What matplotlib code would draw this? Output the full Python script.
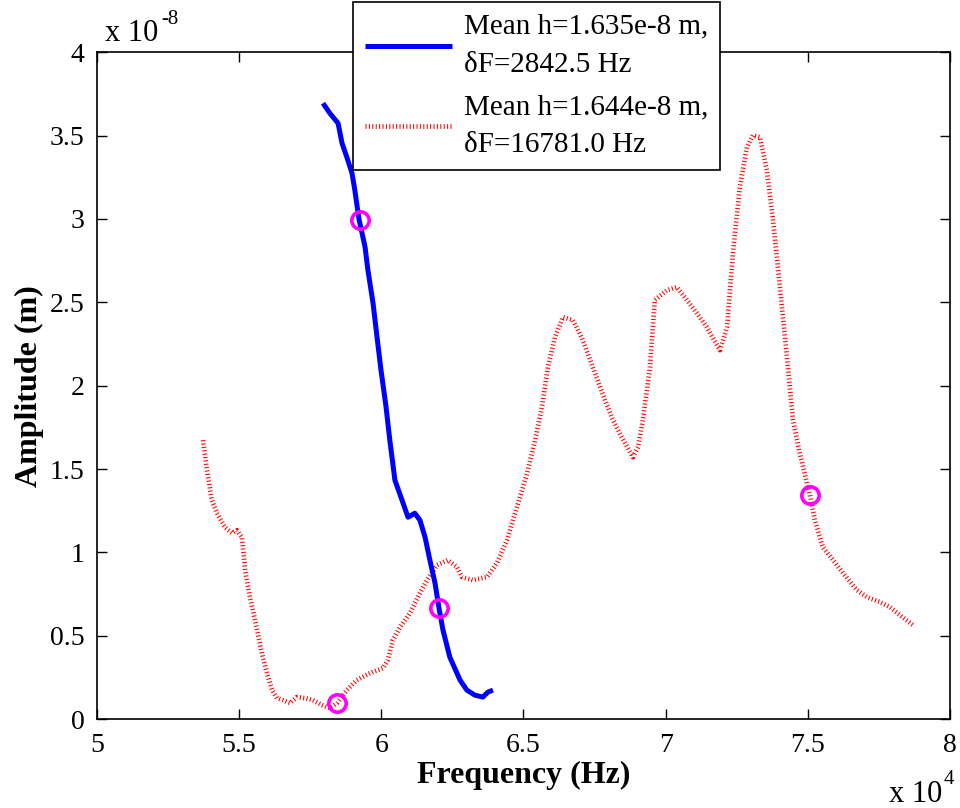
import numpy as np
import matplotlib
matplotlib.use("Agg")
import matplotlib.pyplot as plt

# Frequency in units of 1e4 Hz, amplitude in units of 1e-8 m
freq_a = [5.795, 5.819, 5.848, 5.862, 5.879, 5.897, 5.907, 5.921, 5.943, 5.953,
          5.971, 5.985, 5.999, 6.016, 6.030, 6.048, 6.073, 6.094, 6.118, 6.136,
          6.154, 6.171, 6.189, 6.203, 6.217, 6.241, 6.277, 6.301, 6.329, 6.357,
          6.375, 6.393]
amp_a = [3.694, 3.634, 3.574, 3.454, 3.370, 3.274, 3.172, 3.004, 2.831, 2.693,
         2.495, 2.291, 2.093, 1.883, 1.673, 1.433, 1.313, 1.211, 1.235, 1.193,
         1.091, 0.953, 0.816, 0.666, 0.534, 0.372, 0.234, 0.174, 0.144, 0.132,
         0.162, 0.174]

freq_b = [5.373, 5.387, 5.404, 5.422, 5.450, 5.475, 5.492, 5.510, 5.521, 5.538,
          5.556, 5.580, 5.598, 5.616, 5.633, 5.654, 5.679, 5.703, 5.732, 5.760,
          5.791, 5.819, 5.844, 5.879, 5.914, 5.960, 6.006, 6.023, 6.041, 6.066,
          6.101, 6.136, 6.161, 6.196, 6.234, 6.266, 6.284, 6.322, 6.372, 6.407,
          6.442, 6.477, 6.513, 6.541, 6.565, 6.586, 6.611, 6.639, 6.674, 6.709,
          6.744, 6.787, 6.815, 6.846, 6.885, 6.903, 6.920, 6.945, 6.962, 7.005,
          7.040, 7.075, 7.110, 7.145, 7.191, 7.216, 7.237, 7.261, 7.286, 7.307,
          7.332, 7.356, 7.378, 7.402, 7.427, 7.448, 7.472, 7.497, 7.508, 7.525,
          7.553, 7.589, 7.624, 7.673, 7.708, 7.754, 7.789, 7.824, 7.870]
amp_b = [1.673, 1.493, 1.313, 1.235, 1.151, 1.115, 1.133, 1.091, 0.894, 0.732,
         0.594, 0.396, 0.276, 0.174, 0.126, 0.114, 0.096, 0.132, 0.126, 0.114,
         0.084, 0.066, 0.096, 0.174, 0.234, 0.276, 0.306, 0.354, 0.474, 0.552,
         0.636, 0.756, 0.834, 0.924, 0.954, 0.912, 0.852, 0.834, 0.852, 0.936,
         1.073, 1.271, 1.475, 1.673, 1.871, 2.111, 2.291, 2.411, 2.393, 2.273,
         2.111, 1.913, 1.793, 1.691, 1.571, 1.631, 1.793, 2.111, 2.513, 2.573,
         2.591, 2.513, 2.435, 2.351, 2.213, 2.351, 2.795, 3.190, 3.430, 3.502,
         3.490, 3.292, 2.993, 2.591, 2.171, 1.793, 1.595, 1.415, 1.343, 1.193,
         1.031, 0.954, 0.876, 0.774, 0.732, 0.702, 0.672, 0.624, 0.564]

# Highlighted samples on each curve
mark_freq = [5.925, 6.203, 5.844, 7.508]
mark_amp = [2.993, 0.666, 0.096, 1.343]

label_a = "Mean h=1.635e-8 m,\n\u03b4F=2842.5 Hz"
label_b = "Mean h=1.644e-8 m,\n\u03b4F=16781.0 Hz"

x_ticks = [5, 5.5, 6, 6.5, 7, 7.5, 8]
x_tick_labels = ["5", "5.5", "6", "6.5", "7", "7.5", "8"]
y_ticks = [0, 0.5, 1, 1.5, 2, 2.5, 3, 3.5, 4]
y_tick_labels = ["0", "0.5", "1", "1.5", "2", "2.5", "3", "3.5", "4"]

plt.rcParams["font.family"] = ["Liberation Serif", "DejaVu Serif"]

fig = plt.figure(figsize=(9.6, 8.08), dpi=100)
ax = fig.add_axes([0.101, 0.110, 0.8885, 0.8254])

ax.plot(freq_a, amp_a, color="#0000ff", lw=3.6, solid_capstyle="butt",
        solid_joinstyle="round", label=label_a, zorder=3)
ax.plot(freq_b, amp_b, color="#ff0000", lw=3.4, linestyle=(0, (0.22, 0.5)),
        label=label_b, zorder=2)
ax.plot(mark_freq, mark_amp, linestyle="none", marker="o", ms=12.5,
        mfc="none", mec="#ff00ff", mew=2.6, zorder=4)

ax.set_xlim(5, 8)
ax.set_ylim(0, 4)
ax.set_xticks(x_ticks)
ax.set_xticklabels(x_tick_labels)
ax.set_yticks(y_ticks)
ax.set_yticklabels(y_tick_labels)
ax.tick_params(direction="in", length=7, width=1, labelsize=20,
               top=True, right=True)
ax.tick_params(axis="x", pad=10)
ax.tick_params(axis="y", pad=9)
for s in ax.spines.values():
    s.set_linewidth(1.2)

ax.set_xlabel("Frequency (Hz)", fontsize=23, fontweight="bold", labelpad=2)
ax.set_ylabel("Amplitude (m)", fontsize=23, fontweight="bold")
ax.yaxis.set_label_coords(-0.062, 0.5)

# Exponent multipliers for both axes
ax.text(0.009, 1.0165, "x 10", transform=ax.transAxes,
        fontsize=22, ha="left", va="baseline")
ax.text(0.075, 1.043, "-8", transform=ax.transAxes,
        fontsize=15, ha="left", va="baseline")
ax.text(0.928, -0.124, "x 10", transform=ax.transAxes,
        fontsize=22, ha="left", va="baseline")
ax.text(0.993, -0.097, "4", transform=ax.transAxes,
        fontsize=15, ha="left", va="baseline")

leg = ax.legend(loc="upper left", bbox_to_anchor=(0.3, 1.075), fontsize=21,
                frameon=True, fancybox=False, framealpha=1, edgecolor="black",
                handlelength=3.0, handletextpad=0.4, borderpad=0.4,
                labelspacing=0.55, borderaxespad=0)
leg.get_frame().set_linewidth(1.2)
for t in leg.get_texts():
    t.set_linespacing(1.6)

fig.savefig("out.png", dpi=100)
